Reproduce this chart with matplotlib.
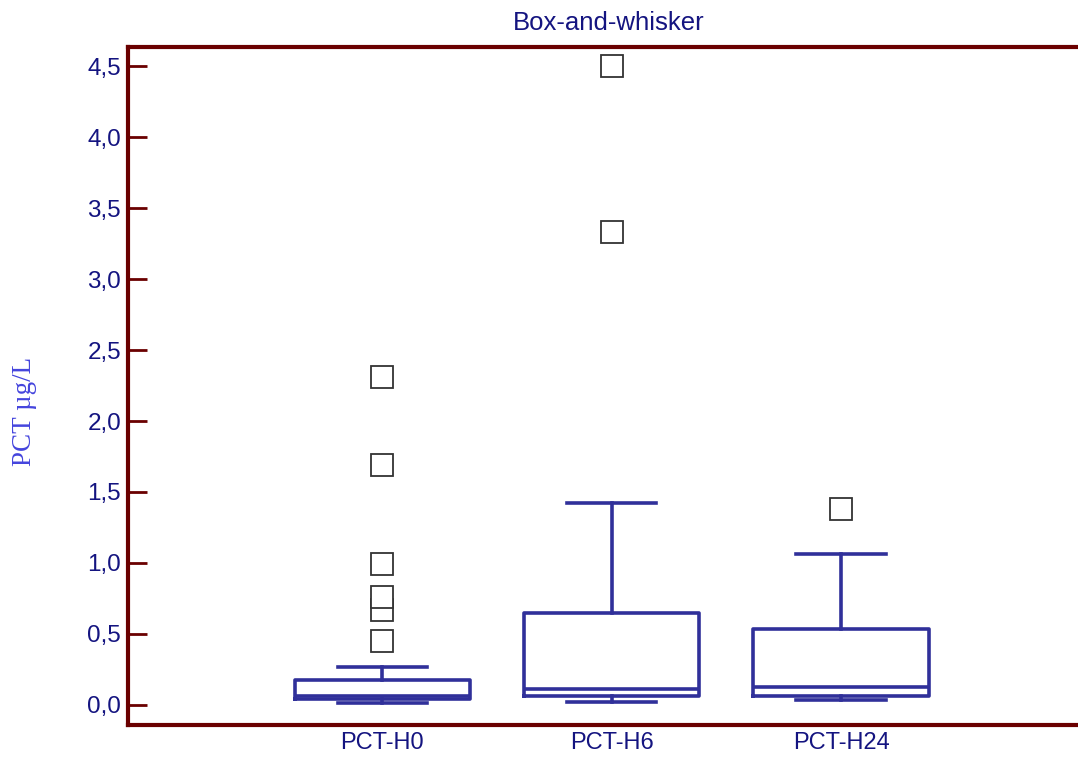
import matplotlib
matplotlib.use("Agg")
import matplotlib.pyplot as plt

categories = ["PCT-H0", "PCT-H6", "PCT-H24"]
whisker_low = [0.015, 0.02, 0.035]
quartile1 = [0.045, 0.065, 0.065]
medians = [0.065, 0.115, 0.13]
quartile3 = [0.175, 0.65, 0.535]
whisker_high = [0.27, 1.42, 1.06]
outliers = [
    [0.45, 0.67, 0.76, 0.99, 1.69, 2.31],
    [3.33, 4.5],
    [1.38],
]
yticks = [0.0, 0.5, 1.0, 1.5, 2.0, 2.5, 3.0, 3.5, 4.0, 4.5]

box_color = "#30309a"
spine_color = "#6a0000"
text_color = "#141480"

plt.rcParams['font.family'] = ['Liberation Sans', 'DejaVu Sans']

fig = plt.figure(figsize=(10.78, 7.57), dpi=100)
ax = fig.add_axes([128 / 1078, 1 - 725 / 757, 1 - 128 / 1078 + 0.01, (725 - 47) / 757])

stats = []
for i, c in enumerate(categories):
    stats.append(dict(label=c, whislo=whisker_low[i], q1=quartile1[i], med=medians[i],
                      q3=quartile3[i], whishi=whisker_high[i], fliers=outliers[i]))

positions = list(range(1, len(categories) + 1))
lw = 2.6
ax.bxp(stats, positions=positions, widths=0.765, showfliers=True,
       boxprops=dict(color=box_color, linewidth=lw),
       medianprops=dict(color=box_color, linewidth=lw),
       whiskerprops=dict(color=box_color, linewidth=lw),
       capprops=dict(color=box_color, linewidth=lw),
       capwidths=0.39,
       flierprops=dict(marker='s', markersize=16, markerfacecolor='white',
                       markeredgecolor='#333333', markeredgewidth=1.3, linestyle='none'))

ax.set_xlim(-0.109, 4.08)
ax.set_ylim(-0.141, 4.634)

ax.set_yticks(yticks)
ax.set_yticklabels([f"{v:.1f}".replace('.', ',') for v in yticks])
ax.tick_params(axis='y', direction='in', length=14, width=2, color=spine_color,
               labelcolor=text_color, labelsize=17.5, pad=5)
ax.tick_params(axis='x', length=0, labelcolor=text_color, labelsize=17, pad=5)
ax.set_xticks(positions)
ax.set_xticklabels(categories)

for s in ['left', 'top', 'bottom']:
    ax.spines[s].set_color(spine_color)
    ax.spines[s].set_linewidth(3)
ax.spines['right'].set_visible(False)

ax.set_title("Box-and-whisker", color=text_color, fontsize=18.5, pad=12)
fig.text(25 / 1078, 1 - 411 / 757, "PCT \u00b5g/L", family=['Liberation Serif', 'DejaVu Serif'],
         color="#4444dd", fontsize=19.5, rotation=90, ha='center', va='center')

fig.savefig("out.png", dpi=100)
